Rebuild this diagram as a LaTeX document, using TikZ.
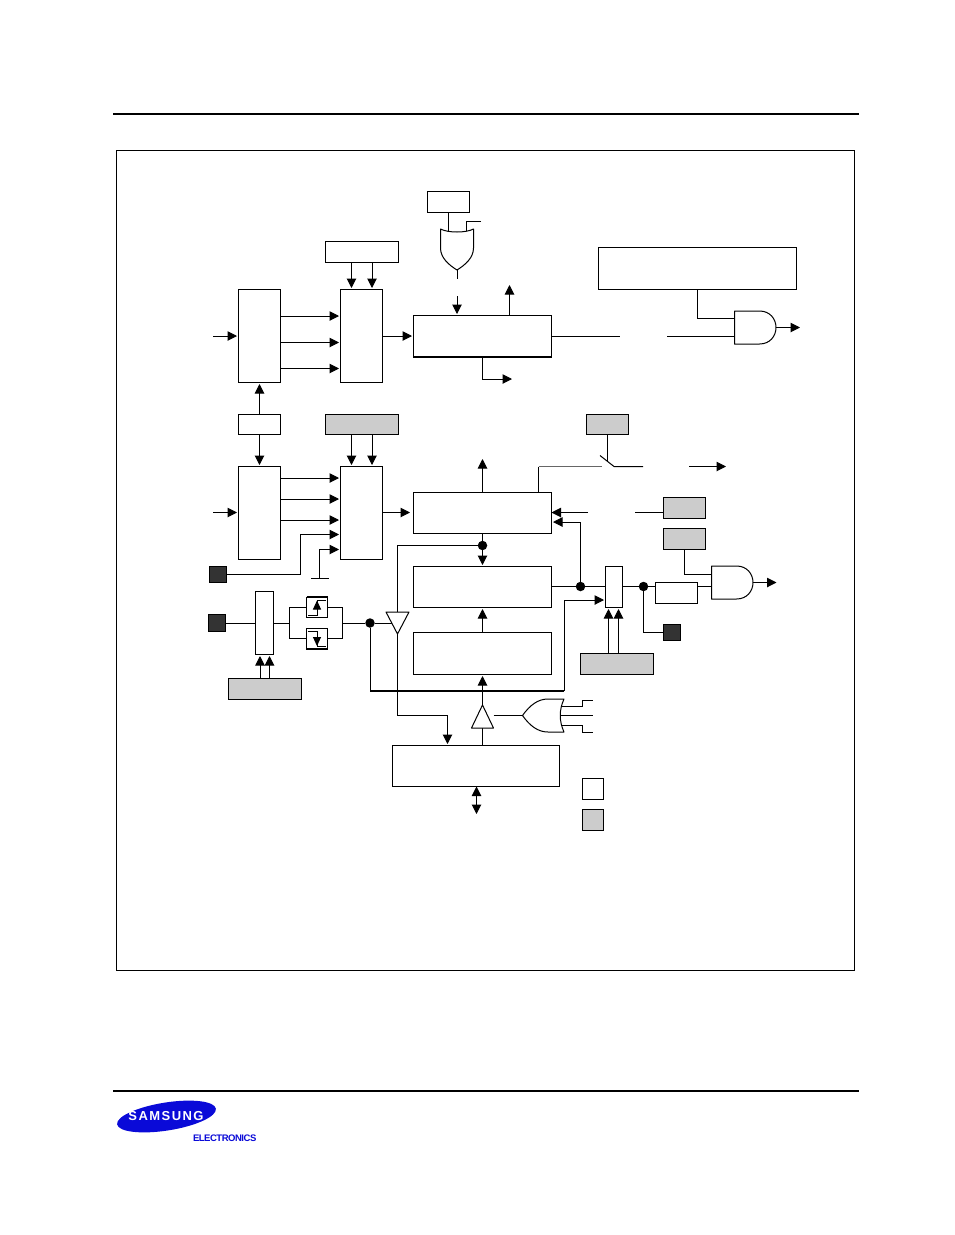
\documentclass[tikz,border=0pt]{standalone}
\usepackage{fontspec}
\setmainfont{Liberation Sans}
\usetikzlibrary{arrows.meta,calc,shapes.geometric}
\definecolor{grayfill}{HTML}{CCCCCC}
\definecolor{darkfill}{HTML}{333333}
\definecolor{logoblue}{HTML}{0A0AD8}
\newcommand\bx[6][plain]{%
  \pgfmathsetmacro\bxw{#5-#3}\pgfmathsetmacro\bxh{#6-#4}%
  \pgfmathsetmacro\bxx{(#5+#3)/2}\pgfmathsetmacro\bxy{(#6+#4)/2}%
  \node[#1,minimum width=\bxw pt,minimum height=\bxh pt] (#2) at (\bxx,\bxy) {};}
\tikzset{
  plain/.style={draw=black,fill=white,line width=1pt,inner sep=0pt,outer sep=0pt},
  shaded/.style={plain,fill=grayfill},
  darkbox/.style={plain,fill=darkfill},
  ghost/.style={inner sep=0pt,outer sep=0pt},
  wire/.style={draw=black,line width=1pt},
  arr/.style={wire,shorten >=1.5pt,-{Triangle[length=9.5pt,width=9.5pt]}},
  arrt/.style={wire,-{Triangle[length=9.5pt,width=9.5pt]}},
  arrb/.style={wire,{Triangle[length=9.5pt,width=9.5pt]}-{Triangle[length=9.5pt,width=9.5pt]}},
  smallarr/.style={wire,-{Triangle[length=9pt,width=8pt]}},
  gate/.style={draw=black,fill=white,line width=1pt,line join=round},
  dotn/.style={circle,fill=black,inner sep=0pt,minimum size=9.5pt,outer sep=0pt},
  rule/.style={draw=black,line width=2pt},
}
\begin{document}
\begin{tikzpicture}[x=1pt,y=-1pt]
\useasboundingbox (0,0) rectangle (954,1235);
\fill[white] (0,0) rectangle (954,1235);
% page rules and frame
\coordinate (ruleAl) at (113,114); \coordinate (ruleAr) at (859,114);
\coordinate (ruleBl) at (113,1091); \coordinate (ruleBr) at (859,1091);
\draw[rule] (ruleAl) -- (ruleAr);
\draw[rule] (ruleBl) -- (ruleBr);
\bx{frame}{116.5}{150.5}{854.5}{970}
% boxes
\bx{muxA}{238.5}{289.5}{280.5}{382.5}
\bx{muxB}{340.5}{289.5}{382.5}{382.5}
\bx{barTop}{325.5}{241.5}{398.5}{262.5}
\bx{smallTop}{427.5}{191.5}{469.5}{212.5}
\bx{bigTop}{598.5}{247.5}{796.5}{289.5}
\bx{timer}{413.5}{315.5}{551.5}{357}
\bx{divBox}{238.5}{414.5}{280.5}{434.5}
\bx[shaded]{grayA}{325.5}{414.5}{398.5}{434.5}
\bx[shaded]{grayB}{586.5}{414.5}{628.5}{434.5}
\bx{muxC}{238.5}{466.5}{280.5}{559.5}
\bx{muxD}{340.5}{466.5}{382.5}{559.5}
\bx{ctrl}{413.5}{492.5}{551.5}{533.5}
\bx{shift}{413.5}{566.5}{551.5}{607.5}
\bx{latch}{413.5}{632.5}{551.5}{674.5}
\bx{busBox}{392.5}{745.5}{559.5}{786.5}
\bx[shaded]{grayC}{663.5}{497.5}{705.5}{518.5}
\bx[shaded]{grayD}{663.5}{528.5}{705.5}{549.5}
\bx{muxE}{605.5}{566.5}{622.5}{607.5}
\bx{outBox}{655.5}{582.5}{697.5}{603.5}
\bx[darkbox]{darkD}{663.5}{624.5}{680.5}{640.5}
\bx[shaded]{grayE}{580.5}{653.5}{653.5}{674.5}
\bx[darkbox]{darkA}{209.5}{566.5}{226.5}{582.5}
\bx[darkbox]{darkB}{208.5}{614.5}{225.5}{631.5}
\bx{muxF}{255.5}{591.5}{273.5}{654.5}
\bx[shaded]{grayF}{228.5}{678.5}{301.5}{699.5}
\bx{edgeUp}{306.5}{597}{327.5}{617}
\bx{edgeDn}{306.5}{628.5}{327.5}{649}
\bx{legA}{582.5}{778.5}{603.5}{799.5}
\bx[shaded]{legB}{582.5}{809.5}{603.5}{830.5}
% thick edges
\draw[line width=1.6pt] (timer.south west) -- (timer.south east);
\draw[line width=1.6pt] (edgeUp.north west) -- (edgeUp.north east);
\draw[line width=1.6pt] (edgeDn.south west) -- (edgeDn.south east);
% edge detector glyphs
\draw[wire] (308,615) -- (317,615) -- (317,600.5) -- (326,600.5);
\draw[smallarr] (317,610) -- (317,600.5);
\draw[wire] (308,631) -- (317,631) -- (317,646) -- (326,646);
\draw[smallarr] (317,636) -- (317,646);
% top section connectors
\foreach \y in {316,342.5,368.5} \draw[arr] (muxA.east |- 0,\y) -- (muxB.west |- 0,\y);
\foreach \x in {351.5,372} \draw[arr] (\x,0 |- barTop.south) -- (\x,0 |- muxB.north);
\coordinate (inA) at (213,336);
\draw[arr] (inA) -- (muxA.west |- inA);
\draw[arr] (muxB.east |- 0,336) -- (timer.west |- 0,336);
\draw[arr] (divBox.north) -- (muxA.south);
\draw[arr] (divBox.south) -- (muxC.north);
\coordinate (orOut) at (457,270);\coordinate (orEnd) at (457,279);
\coordinate (tIn) at (457,296);\coordinate (tUp) at (509.5,283.5);
\coordinate (tDn) at (513.5,379);
\draw[arr] (tIn) -- (tIn |- timer.north);
\draw[arr] (tUp |- timer.north) -- (tUp);
\draw[arr] (482.5,0 |- timer.south) -- (482.5,379) -- (tDn);
% top OR gate
\node[ghost,minimum width=34pt,minimum height=41pt] (orTop) at (457,249.5) {};
\coordinate (orR) at (481,221);
\draw[wire] (smallTop.south) -- (448.5,234);
\draw[wire] (orR) -- (466,221) -- (466,232);
\draw[gate] (440.5,229) .. controls (448,233) and (466,233) .. (473.5,229) -- (473.5,248) .. controls (473.5,258) and (465,265) .. (457,270) .. controls (449,265) and (440.5,258) .. (440.5,248) -- cycle;
\draw[wire] (orOut) -- (orEnd);
% right AND gate
\node[ghost,minimum width=42pt,minimum height=33pt] (andTop) at (755,327.5) {};
\coordinate (gapA) at (620,336.5);\coordinate (gapB) at (667,336.5);
\draw[wire] (timer.east |- gapA) -- (gapA);
\draw[wire] (gapB) -- (734.5,336.5);
\draw[wire] (bigTop.south) -- (697.5,318) -- (734.5,318);
\draw[gate] (734.5,311) -- (759.5,311) .. controls (770,311) and (776,319) .. (776,327.5) .. controls (776,336) and (770,344) .. (759.5,344) -- (734.5,344) -- cycle;
\coordinate (andTopOut) at (801.5,327.5);
\draw[arr] (776,327.5) -- (andTopOut);
% middle section connectors
\foreach \y in {478,499,520} \draw[arr] (muxC.east |- 0,\y) -- (muxD.west |- 0,\y);
\foreach \x in {351.5,372} \draw[arr] (\x,0 |- grayA.south) -- (\x,0 |- muxD.north);
\coordinate (inC) at (213,512.5);
\draw[arr] (inC) -- (muxC.west |- inC);
\draw[arr] (muxD.east |- 0,512.5) -- (411.5,512.5);
\draw[arr] (ctrl.north -| 482.5,0) -- (482.5,457.5);
\draw[wire] (darkA.east) -- (300,574.5) -- (300,534.5);
\draw[arr] (300,534.5) -- (muxD.west |- 0,534.5);
\coordinate (gnd) at (319.5,578);
\draw[wire] (311,578) -- (329,578);
\draw[arr] (gnd) -- (319.5,549.5) -- (muxD.west |- 0,549.5);
% switch
\coordinate (swL) at (602,466.5);\coordinate (swA) at (600,455.5);\coordinate (swB) at (614,466.5);
\coordinate (swR) at (643,466.5);\coordinate (outL) at (689,466.5);\coordinate (outR) at (727.5,466.5);
\draw[wire,draw=black!60!white] (538.5,466.5) -- (swL);
\draw[wire] (538.5,466.5) -- (538.5,0 |- ctrl.north);
\draw[wire] (grayB.south) -- (607.5,461);
\draw[wire] (swA) -- (swB) -- (swR);
\draw[arr] (outL) -- (outR);
\coordinate (gapC) at (588,512.5);\coordinate (gapD) at (635,512.5);
\draw[arrt] (gapC) -- (ctrl.east |- gapC);
\draw[wire] (gapD) -- (grayC.west |- gapD);
% bottom right
\node[dotn] (jA) at (580.5,586.5) {};
\node[dotn] (jB) at (643.5,586.5) {};
\draw[wire] (shift.east |- jA) -- (jA) -- (muxE.west |- jA);
\draw[arr] (jA) -- (580.5,522) -- (ctrl.east |- 0,522);
\draw[wire] (muxE.east |- jB) -- (jB) -- (outBox.west |- jB);
\draw[wire] (jB) -- (643.5,632.5) -- (darkD.west);
\foreach \x in {608.5,618.5} \draw[arr] (\x,0 |- grayE.north) -- (\x,0 |- muxE.south);
\node[ghost,minimum width=42pt,minimum height=33pt] (andBot) at (732,582.5) {};
\draw[wire] (grayD.south) -- (684.5,574.5) -- (711.5,574.5);
\draw[wire] (outBox.east |- jB) -- (711.5,586.5);
\draw[gate] (711.5,566) -- (736.5,566) .. controls (747,566) and (753,574) .. (753,582.5) .. controls (753,591) and (747,599) .. (736.5,599) -- (711.5,599) -- cycle;
\coordinate (andBotOut) at (778,582.5);
\draw[arr] (753,582.5) -- (andBotOut);
% input section
\draw[wire] (darkB.east) -- (muxF.west |- darkB);
\foreach \x in {260,269.5} \draw[arr] (\x,0 |- grayF.north) -- (\x,0 |- muxF.south);
\coordinate (bL) at (289.5,623);\coordinate (bR) at (342.5,623);
\draw[wire] (muxF.east |- bL) -- (bL);
\draw[wire] (bL |- edgeUp.west) -- (bL |- edgeDn.west);
\draw[wire] (bL |- edgeUp.west) -- (edgeUp.west);
\draw[wire] (bL |- edgeDn.west) -- (edgeDn.west);
\draw[wire] (bR |- edgeUp.east) -- (bR |- edgeDn.east);
\draw[wire] (bR |- edgeUp.east) -- (edgeUp.east);
\draw[wire] (bR |- edgeDn.east) -- (edgeDn.east);
\node[dotn] (jC) at (370,623) {};
\draw[wire] (bR) -- (jC) -- (392,623);
% thick bus
\coordinate (busL) at (370,691);\coordinate (busR) at (564,691);
\draw[wire] (jC) -- (busL);
\draw[line width=1.6pt] (busL) -- (busR);
\draw[wire] (busR) -- (564,600);
\draw[arr] (564,600) -- (muxE.west |- 0,600) ;
% buffer and feedback
\node[dotn] (jD) at (482.5,545.5) {};
\draw[wire] (397.5,612) -- (397.5,545.5) -- (jD);
\draw[wire] (jD) -- (jD |- ctrl.south);
\draw[arr] (jD) -- (jD |- shift.north);
\draw[arr] (482.5,0 |- latch.north) -- (482.5,0 |- shift.south);
\draw[arr] (482.5,705) -- (482.5,0 |- latch.south);
\coordinate (fb) at (397.5,715.5);
\draw[wire] (397.5,634) -- (fb);
\draw[arr] (fb) -- (447.5,715.5) -- (447.5,0 |- busBox.north);
\draw[wire] (482.5,0 |- busBox.north) -- (482.5,728);
\node[ghost,minimum width=24pt,minimum height=22pt] (bufA) at (397.5,623) {};
\draw[gate] (386,612) -- (409,612) -- (397.5,634) -- cycle;
\node[ghost,minimum width=24pt,minimum height=23pt] (bufB) at (482.5,716.5) {};
\draw[gate] (471.5,728) -- (493.5,728) -- (482.5,705) -- cycle;
% lower OR
\node[ghost,minimum width=42pt,minimum height=33pt] (orBot) at (543,715.5) {};
\draw[wire] (493.5,715.5) -- (522.5,715.5);
\draw[gate] (522.5,715.5) .. controls (530,705) and (538,699) .. (548,699) -- (564,699) .. controls (559,710) and (559,721) .. (564,732) -- (548,732) .. controls (538,732) and (530,726) .. (522.5,715.5) -- cycle;
\coordinate (inOa) at (593,700);\coordinate (inOb) at (593,715.5);\coordinate (inOc) at (593,732);
\draw[wire] (561,706.5) -- (582,706.5) -- (582,700) -- (inOa);
\draw[wire] (560,715.5) -- (inOb);
\draw[wire] (561,725.5) -- (582,725.5) -- (582,732) -- (inOc);
\coordinate (busEnd) at (476.5,814);
\draw[arrb] (476.5,0 |- busBox.south) -- (busEnd);
% logo
\node[ghost,ellipse,fill=logoblue,minimum width=100pt,minimum height=28pt,rotate=9] (logo) at (166.5,1116.5) {};
\node[ghost,text=white,font=\bfseries\fontsize{13}{13}\selectfont] (logoTxt) at (166,1116.5) {\addfontfeature{LetterSpace=11}SAMSUNG};
\node[ghost,text=logoblue,font=\bfseries\fontsize{9.5}{10}\selectfont,anchor=west] (logoSub) at (193,1138.5) {\addfontfeature{LetterSpace=-5}ELECTRONICS};
\end{tikzpicture}
\end{document}
